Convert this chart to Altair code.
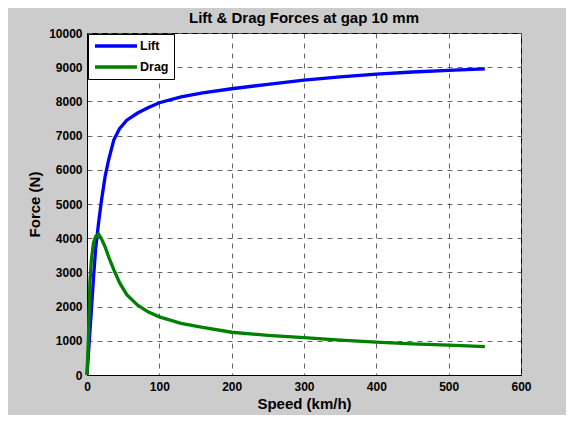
import altair as alt
import pandas as pd

# Data
speed = [0, 2, 4, 6, 9, 12, 16, 20, 25, 30, 37, 45, 55, 70, 85, 100,
         130, 160, 200, 250, 300, 350, 400, 450, 500, 550]
lift = [0, 620, 1250, 1870, 2850, 3700, 4450, 5100, 5800, 6300, 6870, 7200,
        7450, 7660, 7820, 7960, 8130, 8250, 8370, 8500, 8620, 8720, 8800,
        8860, 8910, 8950]
drag = [0, 1100, 2700, 3350, 3870, 4050, 4120, 3980, 3750, 3450, 3080, 2700,
        2350, 2040, 1840, 1700, 1510, 1390, 1250, 1160, 1090, 1020, 960,
        910, 875, 830]
series = ["Lift", "Drag"]
colors = ["#0000ff", "#008000"]
x_ticks = [0, 100, 200, 300, 400, 500, 600]
y_ticks = [0, 1000, 2000, 3000, 4000, 5000, 6000, 7000, 8000, 9000, 10000]

rows = []
for i, s in enumerate(speed):
    rows.append({"Speed": s, "Force": lift[i], "Series": "Lift", "order": i})
    rows.append({"Speed": s, "Force": drag[i], "Series": "Drag", "order": i})
df = pd.DataFrame(rows)

FONT = "Liberation Sans"

chart = alt.Chart(df).mark_line(strokeWidth=3.3).encode(
    x=alt.X("Speed:Q", title="Speed (km/h)",
            scale=alt.Scale(domain=[0, 600], nice=False),
            axis=alt.Axis(values=x_ticks, format="d")),
    y=alt.Y("Force:Q", title="Force (N)",
            scale=alt.Scale(domain=[0, 10000], nice=False),
            axis=alt.Axis(values=y_ticks, format="d")),
    color=alt.Color("Series:N", scale=alt.Scale(domain=series, range=colors),
                    sort=series,
                    legend=alt.Legend(title=None, orient="top-left", offset=1,
                                      symbolType="M-4,0H4", symbolSize=110,
                                      symbolStrokeWidth=3.5, labelOffset=17,
                                      symbolOffset=16,
                                      padding=5, rowPadding=7,
                                      strokeColor="black", fillColor="white",
                                      labelFont=FONT, labelFontSize=12.5,
                                      labelFontWeight="bold", labelColor="black")),
    order="order:Q",
).properties(
    width=434,
    height=342,
    title=alt.TitleParams("Lift & Drag Forces at gap 10 mm", font=FONT,
                          fontSize=15, fontWeight="bold", color="black",
                          frame="group", offset=1, anchor="middle"),
    autosize=alt.AutoSizeParams(type="none"),
    padding={"left": 79, "top": 25, "right": 45, "bottom": 40},
    background="#cccccc",
).configure_view(
    fill="white", stroke="black", strokeWidth=1,
).configure_axis(
    labelFont=FONT, labelFontSize=12, labelFontWeight="bold", labelColor="black",
    titleFont=FONT, titleFontSize=15, titleFontWeight="bold", titleColor="black",
    grid=True, gridColor="#555555", gridDash=[5, 5], gridWidth=1, gridOpacity=0.9,
    domainColor="black", domainWidth=1, ticks=False, labelFlush=False,
    labelOverlap=False,
).configure_axisX(
    labelPadding=6, titlePadding=4,
).configure_axisY(
    labelPadding=5, titlePadding=6,
)

chart.save("out.html", embed_options={"renderer": "svg", "actions": False})
